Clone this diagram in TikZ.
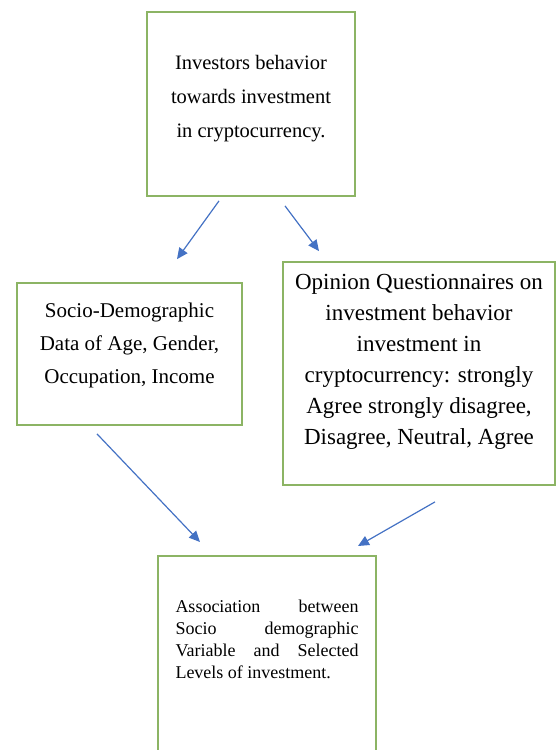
\documentclass[tikz,border=0pt]{standalone}
\usepackage{fontspec}
\setmainfont{Liberation Serif}
\usepackage{tikz}
\usetikzlibrary{arrows.meta}
\definecolor{boxgreen}{RGB}{140,180,100}
\definecolor{arrowblue}{RGB}{68,114,196}

\begin{document}
\begin{tikzpicture}[x=1pt, y=-1pt,
    box/.style={draw=boxgreen, line width=1.8pt, fill=white, align=center, inner sep=0pt},
    link/.style={arrowblue, line width=1.2pt, -{Triangle[length=11pt, width=10pt]}}]
\useasboundingbox (0,0) rectangle (557,750);
% boxes
\node[box, minimum width=208pt, minimum height=184pt, font=\fontsize{20.5}{34}\selectfont] (invest) at (251,104)
    {Investors behavior\\towards investment\\in cryptocurrency.\\[-18pt]};
\node[box, minimum width=225pt, minimum height=142pt, font=\fontsize{21}{33}\selectfont] (sociodata) at (129.5,354)
    {Socio-Demographic\\Data of Age, Gender,\\Occupation, Income\\[-11pt]};
\node[box, minimum width=272pt, minimum height=223pt, font=\fontsize{23}{31}\selectfont] (opinion) at (419,373.5)
    {Opinion Questionnaires on\\investment behavior\\investment in\\cryptocurrency: strongly\\Agree strongly disagree,\\Disagree, Neutral, Agree\\[-2pt]};
\node[box, anchor=north, text width=183pt, align=justify, inner xsep=17.5pt, inner ysep=44pt, font=\fontsize{18}{22}\selectfont] (assoc) at (267,555)
    {Association between\linebreak Socio demographic\linebreak Variable and Selected\linebreak Levels of investment.\\\rule{0pt}{50pt}};
% arrows
\coordinate (s1) at ([shift={(-32,4)}]invest.south);
\coordinate (e1) at ([shift={(47.5,-23)}]sociodata.north);
\coordinate (s2) at ([shift={(34,9)}]invest.south);
\coordinate (e2) at ([shift={(-100,-10)}]opinion.north);
\coordinate (s3) at ([shift={(-32.5,8)}]sociodata.south);
\coordinate (e3) at ([shift={(-67,-13)}]assoc.north);
\coordinate (s4) at ([shift={(16,16)}]opinion.south);
\coordinate (e4) at ([shift={(91,-9)}]assoc.north);
\foreach \a/\b in {s1/e1, s2/e2, s3/e3, s4/e4}{
    \draw[link] (\a) -- (\b);
}
\end{tikzpicture}
\end{document}
